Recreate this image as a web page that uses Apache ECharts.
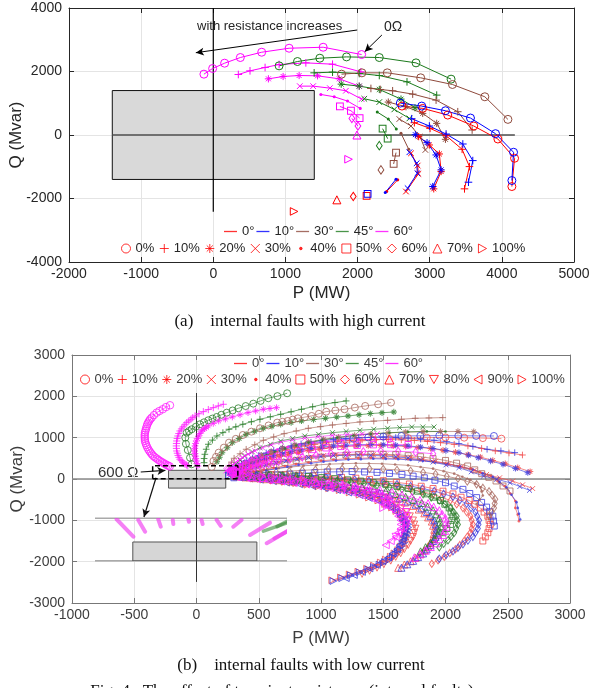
<!DOCTYPE html>
<html><head><meta charset="utf-8">
<script src="https://cdn.jsdelivr.net/npm/echarts@6/dist/echarts.min.js"></script>
<style>html,body{margin:0;padding:0;background:#fff}#c{width:594px;height:688px}</style>
</head><body><div id="c"></div>
<script>
// ---------------- DATA: tick layout ----------------
const xTicksA = [-2000, 5000, 1000];   // min, max, step
const yTicksA = [-4000, 4000, 2000];
const xTicksB = [-1000, 3000, 500];
const yTicksB = [-3000, 3000, 1000];
const anglesA = ['0°','10°','30°','45°','60°'];
const loadsA = ['0%','10%','20%','30%','40%','50%','60%','70%','100%'];
const loadsB = ['0%','10%','20%','30%','40%','50%','60%','70%','80%','90%','100%'];

// ---------------- (a) high current: angle_load ----------------
const a0_0 = [[2616,911],[2903,838],[3250,628],[3611,283],[3945,-126],[4176,-733],[4139,-1623]];
const a0_10 = [[2787,387],[3005,209],[3227,-21],[3449,-450],[3551,-995],[3482,-1696]];
const a0_20 = [[2847,-52],[2995,-314],[3134,-597],[3158,-1152],[3056,-1696]];
const a0_30 = [[2741,-576],[2833,-963],[2843,-1225],[2671,-1780]];
const a0_40 = [[2556,-1413],[2403,-1780]];
const a0_50 = [[2125,-1916]];
const a0_60 = [[1940,-1937]];
const a0_70 = [[1713,-2042]];
const a0_100 = [[1120,-2408]];
const a10_0 = [[2593,1005],[2889,911],[3218,764],[3565,534],[3912,42],[4162,-544],[4139,-1434]];
const a10_10 = [[2750,513],[2995,283],[3227,31],[3459,-283],[3597,-806],[3537,-1487]];
const a10_20 = [[2801,10],[2963,-241],[3088,-628],[3158,-1099],[3042,-1623]];
const a10_30 = [[2718,-544],[2819,-890],[2829,-1204],[2694,-1675]];
const a10_40 = [[2533,-1393],[2384,-1811]];
const a10_50 = [[2139,-1853]];
const a30_0 = [[1778,1916],[2060,1958],[2412,1958],[2875,1801],[3315,1591],[3764,1204],[4084,492]];
const a30_10 = [[2185,1466],[2315,1434],[2486,1393],[2764,1288],[3088,1099],[3389,733],[3588,157]];
const a30_20 = [[2426,1037],[2671,890],[2903,681],[3097,366],[3218,-136]];
const a30_30 = [[2579,503],[2741,283],[2866,-52],[2940,-471]];
const a30_40 = [[2602,52],[2709,-450]];
const a30_50 = [[2533,-555],[2500,-911]];
const a30_60 = [[2324,-1099]];
const a45_0 = [[912,2178],[1167,2314],[1477,2419],[1847,2460],[2301,2440],[2810,2272],[3296,1759]];
const a45_10 = [[1398,1958],[1653,1979],[2023,1937],[2301,1874],[2685,1675],[3097,1256]];
const a45_20 = [[1773,1602],[2023,1539],[2301,1434],[2602,1131],[2796,859]];
const a45_30 = [[2093,1141],[2301,1037],[2509,806],[2718,523]];
const a45_40 = [[2273,722],[2426,503],[2537,188]];
const a45_50 = [[2347,199],[2417,-115]];
const a45_60 = [[2301,-335]];
const a60_0 = [[-130,1916],[-9,2094],[157,2262],[375,2440],[671,2607],[1051,2733],[1523,2764],[2056,2534]];
const a60_10 = [[347,1906],[509,2021],[718,2126],[912,2220],[1283,2272],[1653,2230],[2046,1990]];
const a60_20 = [[764,1769],[968,1843],[1190,1874],[1445,1864],[1746,1769],[2023,1539]];
const a60_30 = [[1199,1539],[1384,1539],[1616,1476],[1838,1393],[2056,1131]];
const a60_40 = [[1491,1277],[1676,1204],[1861,1068],[2037,838]];
const a60_50 = [[1755,900],[1908,764],[2028,534]];
const a60_60 = [[1921,523],[2005,283]];
const a60_70 = [[1991,0]];
const a60_100 = [[1875,-764]];
const rectA = [[-1400,-1400,1400,1400]];
const axisLinesA = [[[-1400,0],[4180,0]], [[0,-2420],[0,4000]]];

// ---------------- (b) low current: angle_load ----------------
const b60_0 = [[-213,1784],[-245,1740],[-271,1688],[-298,1645],[-320,1605],[-342,1545],[-360,1484],[-372,1445],[-380,1405],[-388,1365],[-395,1324],[-400,1270],[-405,1220],[-410,1170],[-414,1121],[-416,1070],[-416,1020],[-415,970],[-414,920],[-409,870],[-403,820],[-396,770],[-387,719],[-378,675],[-368,635],[-358,595],[-347,557],[-334,525],[-320,495],[-307,465],[-293,436],[-279,410],[-265,385],[-252,362],[-239,339],[-227,322],[-215,305]];
const b60_10 = [[215,1808],[175,1768],[135,1726],[95,1680],[55,1630],[20,1578],[-12,1525],[-30,1485],[-45,1445],[-62,1404],[-79,1363],[-94,1312],[-108,1262],[-121,1212],[-133,1162],[-142,1100],[-150,1040],[-155,980],[-159,920],[-161,860],[-162,800],[-161,740],[-159,678],[-154,624],[-148,570],[-141,523],[-133,477],[-123,443],[-112,410],[-102,383],[-92,356],[-81,338],[-70,320]];
const b45_0 = [[728,2074],[650,2005],[577,1954],[515,1890],[456,1823],[395,1765],[336,1711],[290,1658],[243,1605],[200,1553],[162,1501],[128,1462],[95,1421],[60,1372],[28,1324],[-5,1265],[-39,1203],[-60,1160],[-79,1121],[-90,1000],[-85,850],[-70,700],[-52,516],[-39,356]];
const b60_20 = [[643,1726],[590,1706],[537,1687],[475,1646],[414,1606],[350,1553],[288,1501],[232,1452],[178,1404],[135,1345],[95,1283],[78,1252],[65,1222],[52,1192],[39,1162],[28,1100],[18,1040],[8,980],[-2,920],[-7,860],[-12,800],[-14,740],[-16,678],[-13,616],[-10,555],[-6,495],[-2,436],[4,375],[11,315]];
const b45_10 = [[1202,1889],[1112,1849],[1023,1808],[933,1748],[843,1687],[760,1626],[676,1566],[593,1505],[510,1445],[441,1385],[372,1324],[316,1263],[261,1203],[212,1122],[164,1041],[128,940],[95,840],[78,720],[67,598],[61,495],[61,395]];
const b30_0 = [[1562,1848],[1459,1808],[1355,1768],[1272,1728],[1189,1687],[1115,1658],[1042,1630],[983,1578],[925,1525],[870,1497],[814,1469],[773,1437],[732,1404],[690,1384],[648,1364],[579,1296],[510,1227],[441,1146],[372,1065],[316,972],[261,880],[220,759],[178,638],[157,537],[136,436],[122,291]];
const b45_20 = [[1585,1622],[1490,1602],[1396,1582],[1306,1554],[1217,1525],[1126,1497],[1036,1469],[940,1437],[843,1404],[760,1364],[676,1324],[606,1276],[537,1227],[468,1154],[399,1081],[344,980],[288,880],[247,759],[206,638],[185,529],[164,420]];
const b30_10 = [[1978,1485],[1867,1477],[1757,1469],[1646,1445],[1535,1420],[1424,1400],[1313,1380],[1202,1344],[1092,1307],[995,1267],[898,1227],[801,1162],[704,1097],[620,1017],[537,936],[468,828],[399,719],[350,610],[302,501],[281,408],[261,315]];
const b45_30 = [[1908,1259],[1818,1259],[1729,1259],[1632,1243],[1535,1227],[1424,1203],[1313,1178],[1202,1150],[1092,1121],[981,1081],[870,1041],[773,980],[676,920],[593,840],[510,759],[448,658],[386,557],[351,456],[316,356],[302,295],[288,234]];
const b10_0 = [[2389,1041],[2246,1043],[2103,1045],[1950,1050],[1798,1045],[1646,1041],[1500,1025],[1380,1005],[1260,975],[1140,940],[1020,895],[900,840],[790,780],[690,710],[600,630],[520,545],[450,455],[390,370],[340,290],[300,220]];
const b0_0 = [[2449,976],[2300,990],[2150,1000],[2000,1005],[1850,1000],[1700,990],[1550,970],[1420,945],[1290,910],[1160,870],[1040,820],[920,760],[810,695],[710,625],[620,545],[540,465],[470,385],[410,305],[360,230],[320,170]];
const b30_20 = [[2227,1146],[2100,1150],[1960,1150],[1820,1145],[1680,1135],[1540,1115],[1400,1090],[1270,1055],[1140,1010],[1020,960],[900,900],[790,830],[690,750],[600,665],[520,575],[450,480],[390,385],[340,300],[300,230]];
const b60_30 = [[1450,1090],[1330,1085],[1210,1075],[1090,1055],[975,1025],[870,990],[770,945],[680,890],[600,825],[530,755],[470,680],[440,640],[415,600],[392,560],[370,520],[350,480],[330,440],[315,402],[300,365],[288,332],[275,300],[265,272],[255,245],[246,222],[238,200]];
const b60_40 = [[1560,960],[1430,960],[1300,952],[1170,935],[1050,910],[935,875],[830,830],[735,775],[650,715],[575,650],[505,575],[475,538],[445,500],[420,462],[395,425],[372,390],[350,355],[331,322],[312,290],[296,260],[280,230],[268,205],[255,180]];
const b60_50 = [[1700,830],[1560,835],[1420,830],[1290,815],[1160,790],[1040,755],[930,715],[830,665],[740,610],[655,550],[580,490],[545,458],[510,425],[480,395],[450,365],[422,335],[395,305],[370,278],[345,250],[325,225],[305,200],[290,180],[275,160]];
const b60_60 = [[1900,610],[1760,650],[1620,670],[1480,675],[1340,665],[1210,645],[1080,615],[960,575],[850,530],[750,480],[660,425],[620,398],[580,370],[542,342],[505,315],[472,290],[440,265],[410,240],[380,215],[355,195],[330,175],[310,158],[290,140]];
const b45_40 = [[2000,1150],[1850,1152],[1700,1140],[1550,1120],[1400,1090],[1260,1050],[1130,1000],[1010,945],[900,880],[800,810],[710,735],[630,655],[560,570],[500,485],[445,400],[395,320],[350,250],[310,190]];
const b10_10 = [[2556,638],[2445,680],[2334,719],[2220,790],[2108,855],[2010,900],[1908,937],[1800,965],[1700,990],[1600,1002],[1500,1010],[1400,1008],[1300,1000],[1200,982],[1100,960],[1010,928],[920,890],[840,848],[760,800],[690,745],[620,690],[560,630],[500,570],[450,505],[400,440],[360,375],[320,310],[290,255],[260,200]];
const b0_10 = [[2618,581],[2510,630],[2400,680],[2290,740],[2180,800],[2070,840],[1960,880],[1855,910],[1750,935],[1645,948],[1540,955],[1435,952],[1330,945],[1230,928],[1130,905],[1040,875],[950,840],[870,800],[790,755],[720,705],[650,650],[590,590],[530,530],[480,465],[430,400],[390,340],[350,280],[320,225],[290,170]];
const b10_20 = [[2661,153],[2562,255],[2462,356],[2362,436],[2263,516],[2185,577],[2108,638],[2004,690],[1900,740],[1800,772],[1700,800],[1600,818],[1500,830],[1400,832],[1300,830],[1200,818],[1100,800],[1010,772],[920,740],[840,702],[760,660],[690,612],[620,560],[560,505],[500,450],[450,390],[400,330],[360,275],[320,220],[290,175],[260,130]];
const b0_20 = [[2680,180],[2580,275],[2480,370],[2380,450],[2280,530],[2180,590],[2080,650],[1980,695],[1880,740],[1780,765],[1680,790],[1580,800],[1480,810],[1380,806],[1280,800],[1180,780],[1080,760],[990,725],[900,690],[820,645],[740,600],[670,550],[600,500],[540,445],[480,390],[430,330],[380,270],[340,215],[300,160]];
const b10_30 = [[2675,-274],[2597,-182],[2518,-90],[2412,-8],[2306,73],[2207,174],[2108,274],[2004,342],[1900,410],[1800,460],[1700,510],[1600,535],[1500,560],[1400,570],[1300,580],[1200,575],[1100,570],[1000,545],[900,520],[810,480],[720,440],[640,390],[560,340],[490,285],[420,230],[360,175],[300,120]];
const b0_30 = [[2700,-230],[2620,-140],[2540,-50],[2435,30],[2330,110],[2230,205],[2130,300],[2025,365],[1920,430],[1820,480],[1720,530],[1620,555],[1520,580],[1420,590],[1320,600],[1220,595],[1120,590],[1020,565],[920,540],[830,500],[740,460],[660,410],[580,360],[510,305],[440,250],[380,195],[320,140]];
const b30_50 = [[2518,-290],[2462,-169],[2406,-48],[2348,40],[2291,128],[2235,222],[2178,315],[2089,383],[2000,450],[1900,495],[1800,540],[1700,565],[1600,590],[1500,595],[1400,600],[1300,590],[1200,580],[1100,555],[1000,530],[900,490],[800,450],[710,400],[620,350],[540,295],[460,240],[390,185],[330,130]];
const b0_40 = [[2590,-1020],[2580,-860],[2561,-700],[2561,-533],[2520,-350],[2476,-170],[2420,-50],[2363,73],[2280,160],[2200,250],[2100,315],[2000,380],[1900,420],[1800,460],[1700,480],[1600,500],[1500,505],[1400,510],[1300,500],[1200,490],[1100,465],[1000,440],[900,400],[800,360],[710,315],[620,270],[540,225],[460,180],[390,140],[320,100]];
const b10_40 = [[2600,-980],[2590,-840],[2580,-700],[2570,-560],[2530,-380],[2490,-200],[2435,-75],[2380,50],[2300,140],[2220,230],[2120,295],[2020,360],[1920,400],[1820,440],[1720,460],[1620,480],[1520,485],[1420,490],[1320,480],[1220,470],[1120,445],[1020,420],[920,380],[820,340],[730,295],[640,250],[560,205],[480,160],[410,120],[340,80]];
const b30_40 = [[2250,-600],[2275,-500],[2300,-400],[2290,-300],[2280,-200],[2240,-110],[2200,-20],[2135,55],[2070,130],[1985,190],[1900,250],[1800,290],[1700,330],[1595,350],[1490,370],[1385,375],[1280,380],[1175,370],[1070,360],[965,340],[860,320],[760,290],[660,260],[570,225],[480,190],[405,160],[330,130]];
const b30_60 = [[2350,-900],[2370,-800],[2390,-700],[2395,-595],[2400,-490],[2375,-395],[2350,-300],[2300,-215],[2250,-130],[2175,-60],[2100,10],[2010,65],[1920,120],[1820,160],[1720,200],[1610,220],[1500,240],[1390,245],[1280,250],[1170,245],[1060,240],[955,225],[850,210],[745,190],[640,170],[545,150],[450,130],[375,115],[300,100]];
const b10_50 = [[2392,-1138],[2386,-1019],[2380,-900],[2355,-790],[2330,-680],[2290,-565],[2250,-450],[2195,-350],[2140,-250],[2070,-170],[2000,-90],[1915,-30],[1830,30],[1740,70],[1650,110],[1550,135],[1450,160],[1350,170],[1250,180],[1150,175],[1050,170],[950,155],[850,140],[750,120],[650,100],[550,80],[450,60],[375,45],[300,30]];
const b0_50 = [[2300,-1500],[2320,-1400],[2340,-1300],[2350,-1200],[2360,-1100],[2350,-1000],[2340,-900],[2310,-800],[2280,-700],[2235,-610],[2190,-520],[2125,-440],[2060,-360],[1980,-295],[1900,-230],[1805,-175],[1710,-120],[1605,-80],[1500,-40],[1390,-10],[1280,20],[1165,40],[1050,60],[935,75],[820,90],[710,100],[600,110],[500,115],[400,120]];
const b10_100 = [[1099,-2470],[1170,-2400],[1240,-2330],[1310,-2260],[1380,-2187],[1425,-2130],[1470,-2070],[1512,-2007],[1554,-1944],[1577,-1882],[1600,-1820],[1618,-1760],[1635,-1702],[1652,-1620],[1670,-1540],[1679,-1460],[1688,-1380],[1695,-1310],[1701,-1240],[1701,-1170],[1701,-1097],[1688,-1017],[1675,-937],[1642,-816],[1608,-695],[1554,-594],[1500,-492],[1420,-412],[1340,-332],[1273,-291],[1206,-250],[1128,-210],[1050,-170],[965,-135],[880,-100],[790,-70],[700,-40],[615,-10],[530,20],[455,40],[380,60],[320,75],[260,90]];
const b0_100 = [[1090,-2450],[1160,-2380],[1230,-2310],[1300,-2240],[1370,-2170],[1425,-2095],[1480,-2020],[1520,-1950],[1560,-1880],[1590,-1800],[1620,-1720],[1640,-1635],[1660,-1550],[1670,-1465],[1680,-1380],[1685,-1290],[1690,-1200],[1685,-1115],[1680,-1030],[1660,-945],[1640,-860],[1605,-775],[1570,-690],[1515,-605],[1460,-520],[1385,-450],[1310,-380],[1230,-325],[1150,-270],[1065,-225],[980,-180],[890,-140],[800,-100],[710,-70],[620,-40],[540,-15],[460,10],[395,35],[330,60]];
const b0_60 = [[1890,-2050],[1940,-1965],[1990,-1880],[2035,-1790],[2080,-1700],[2115,-1600],[2150,-1500],[2175,-1400],[2200,-1300],[2210,-1200],[2220,-1100],[2210,-1000],[2200,-900],[2170,-800],[2140,-700],[2090,-610],[2040,-520],[1970,-445],[1900,-370],[1810,-305],[1720,-240],[1620,-190],[1520,-140],[1410,-100],[1300,-60],[1190,-30],[1080,0],[965,25],[850,50],[735,65],[620,80],[520,90],[420,100],[350,105],[280,110]];
const b10_60 = [[1950,-1930],[2005,-1840],[2060,-1750],[2100,-1665],[2140,-1580],[2180,-1490],[2220,-1400],[2240,-1300],[2260,-1200],[2265,-1100],[2270,-1000],[2255,-900],[2240,-800],[2205,-700],[2170,-600],[2115,-515],[2060,-430],[1985,-360],[1910,-290],[1815,-230],[1720,-170],[1610,-125],[1500,-80],[1385,-45],[1270,-10],[1155,15],[1040,40],[920,60],[800,80],[690,90],[580,100],[485,105],[390,110]];
const b10_70 = [[1646,-2147],[1693,-2063],[1740,-1980],[1780,-1890],[1820,-1800],[1850,-1700],[1880,-1600],[1900,-1500],[1920,-1400],[1925,-1300],[1930,-1200],[1920,-1100],[1910,-1000],[1880,-900],[1850,-800],[1805,-710],[1760,-620],[1695,-545],[1630,-470],[1550,-405],[1470,-340],[1375,-285],[1280,-230],[1180,-185],[1080,-140],[980,-105],[880,-70],[780,-40],[680,-10],[585,15],[490,40],[410,60],[330,80]];
const b0_70 = [[1620,-2150],[1670,-2070],[1720,-1990],[1760,-1905],[1800,-1820],[1830,-1725],[1860,-1630],[1880,-1530],[1900,-1430],[1905,-1330],[1910,-1230],[1900,-1130],[1890,-1030],[1860,-930],[1830,-830],[1785,-740],[1740,-650],[1675,-570],[1610,-490],[1530,-425],[1450,-360],[1355,-305],[1260,-250],[1160,-205],[1060,-160],[960,-125],[860,-90],[760,-60],[660,-30],[565,-5],[470,20],[395,40],[320,60]];
const b0_80 = [[1330,-2300],[1390,-2225],[1450,-2150],[1505,-2065],[1560,-1980],[1600,-1890],[1640,-1800],[1670,-1700],[1700,-1600],[1720,-1500],[1740,-1400],[1750,-1300],[1760,-1200],[1750,-1100],[1740,-1000],[1715,-900],[1690,-800],[1645,-710],[1600,-620],[1535,-540],[1470,-460],[1385,-395],[1300,-330],[1205,-275],[1110,-220],[1005,-175],[900,-130],[795,-95],[690,-60],[590,-30],[490,0],[405,25],[320,50]];
const b10_90 = [[1200,-2400],[1265,-2325],[1330,-2250],[1390,-2165],[1450,-2080],[1495,-1990],[1540,-1900],[1575,-1800],[1610,-1700],[1630,-1600],[1650,-1500],[1660,-1400],[1670,-1300],[1670,-1200],[1670,-1100],[1655,-1000],[1640,-900],[1605,-800],[1570,-700],[1515,-615],[1460,-530],[1385,-460],[1310,-390],[1220,-330],[1130,-270],[1030,-220],[930,-170],[825,-130],[720,-90],[615,-55],[510,-20],[425,10],[340,40]];
const b45_60 = [[1950,-1650],[1985,-1565],[2020,-1480],[2045,-1390],[2070,-1300],[2085,-1200],[2100,-1100],[2095,-1000],[2090,-900],[2065,-800],[2040,-700],[1995,-610],[1950,-520],[1885,-445],[1820,-370],[1735,-310],[1650,-250],[1550,-200],[1450,-150],[1345,-110],[1240,-70],[1130,-40],[1020,-10],[910,15],[800,40],[690,60],[580,80],[480,90],[380,100]];
const b45_50 = [[1980,-1300],[2010,-1200],[2040,-1100],[2050,-1000],[2060,-900],[2045,-800],[2030,-700],[1995,-610],[1960,-520],[1905,-440],[1850,-360],[1775,-295],[1700,-230],[1610,-180],[1520,-130],[1420,-90],[1320,-50],[1215,-20],[1110,10],[1005,35],[900,60],[790,75],[680,90],[580,100],[480,110],[400,110],[320,110]];
const b45_70 = [[1800,-1750],[1840,-1650],[1880,-1550],[1910,-1450],[1940,-1350],[1950,-1250],[1960,-1150],[1955,-1050],[1950,-950],[1925,-855],[1900,-760],[1855,-670],[1810,-580],[1745,-505],[1680,-430],[1600,-365],[1520,-300],[1425,-250],[1330,-200],[1225,-155],[1120,-110],[1015,-75],[910,-40],[805,-15],[700,10],[600,30],[500,50],[420,65],[340,80]];
const b60_70 = [[1750,-1900],[1795,-1815],[1840,-1730],[1880,-1640],[1920,-1550],[1950,-1450],[1980,-1350],[1995,-1250],[2010,-1150],[2005,-1050],[2000,-950],[1975,-855],[1950,-760],[1905,-675],[1860,-590],[1795,-515],[1730,-440],[1650,-380],[1570,-320],[1475,-270],[1380,-220],[1275,-180],[1170,-140],[1065,-105],[960,-70],[855,-45],[750,-20],[645,5],[540,30],[450,50],[360,70]];
const b60_80 = [[1600,-1400],[1640,-1300],[1680,-1200],[1690,-1100],[1700,-1000],[1690,-900],[1680,-800],[1645,-710],[1610,-620],[1555,-545],[1500,-470],[1430,-405],[1360,-340],[1275,-285],[1190,-230],[1095,-185],[1000,-140],[900,-105],[800,-70],[700,-40],[600,-10],[510,15],[420,40],[355,60],[290,80]];
const b60_90 = [[1520,-1600],[1560,-1500],[1600,-1400],[1620,-1300],[1640,-1200],[1640,-1100],[1640,-1000],[1620,-900],[1600,-800],[1560,-710],[1520,-620],[1460,-540],[1400,-460],[1325,-395],[1250,-330],[1160,-275],[1070,-220],[975,-175],[880,-130],[780,-95],[680,-60],[580,-30],[480,0],[400,25],[320,50]];
const b60_100 = [[1500,-700],[1530,-625],[1560,-550],[1540,-475],[1520,-400],[1470,-340],[1420,-280],[1350,-230],[1280,-180],[1200,-140],[1120,-100],[1035,-70],[950,-40],[865,-15],[780,10],[695,30],[610,50],[530,65],[450,80],[385,90],[320,100]];
const rectB = [[-225,-220,235,210]];
const dashBoxB = [[-352,7],[332,7],[332,322],[-352,322],[-352,7]];
const axisLinesB = [[[-1000,0],[3000,0]], [[0,-2490],[0,2080]]];
// inset (magnified view of the dashed box)
const insetRange = [-365, 336, 0, 475];
const insetRect = [[-227,0,226,210]];
const insetEdges = [[[-365,0],[336,0]], [[-365,475],[336,475]]];
const insetStrokes = [[-286,461,-225,268],[-207,453,-182,324],[-134,461,-125,379],[-81,453,-79,409],[-24,461,-22,434],[24,453,28,409],[79,453,94,387],[140,379,170,453],[201,287,274,423],[262,196,335,324],[290,250,336,330]];
const insetStrokesGreen = [[250,330,336,420],[300,380,336,440]];

const curvesA = [
 ['60°','0%',a60_0],['60°','10%',a60_10],['60°','20%',a60_20],['60°','30%',a60_30],['60°','40%',a60_40],['60°','50%',a60_50],['60°','60%',a60_60],['60°','70%',a60_70],['60°','100%',a60_100],
 ['45°','0%',a45_0],['45°','10%',a45_10],['45°','20%',a45_20],['45°','30%',a45_30],['45°','40%',a45_40],['45°','50%',a45_50],['45°','60%',a45_60],
 ['30°','0%',a30_0],['30°','10%',a30_10],['30°','20%',a30_20],['30°','30%',a30_30],['30°','40%',a30_40],['30°','50%',a30_50],['30°','60%',a30_60],
 ['0°','0%',a0_0],['0°','10%',a0_10],['0°','20%',a0_20],['0°','30%',a0_30],['0°','40%',a0_40],['0°','50%',a0_50],['0°','60%',a0_60],['0°','70%',a0_70],['0°','100%',a0_100],
 ['10°','0%',a10_0],['10°','10%',a10_10],['10°','20%',a10_20],['10°','30%',a10_30],['10°','40%',a10_40],['10°','50%',a10_50]
];
const curvesB = [
 ['0°','100%',b0_100],['10°','100%',b10_100],['0°','80%',b0_80],['10°','90%',b10_90],['0°','70%',b0_70],['10°','70%',b10_70],
 ['0°','60%',b0_60],['10°','60%',b10_60],['0°','50%',b0_50],['10°','50%',b10_50],
 ['45°','50%',b45_50],['45°','60%',b45_60],['45°','70%',b45_70],
 ['30°','60%',b30_60],['30°','40%',b30_40],['30°','50%',b30_50],
 ['0°','40%',b0_40],['10°','40%',b10_40],['0°','30%',b0_30],['10°','30%',b10_30],
 ['0°','20%',b0_20],['10°','20%',b10_20],['0°','10%',b0_10],['10°','10%',b10_10],
 ['0°','0%',b0_0],['10°','0%',b10_0],['30°','20%',b30_20],['45°','40%',b45_40],
 ['30°','10%',b30_10],['45°','30%',b45_30],['45°','20%',b45_20],['30°','0%',b30_0],['45°','10%',b45_10],['45°','0%',b45_0],
 ['60°','100%',b60_100],['60°','90%',b60_90],['60°','80%',b60_80],['60°','70%',b60_70],
 ['60°','60%',b60_60],['60°','50%',b60_50],['60°','40%',b60_40],['60°','30%',b60_30],
 ['60°','20%',b60_20],['60°','10%',b60_10],['60°','0%',b60_0]
];

// ---------------- STYLE ----------------
const FONT = "'Liberation Sans', Arial, Helvetica, sans-serif";
const SERIF = "'Liberation Serif', 'Times New Roman', serif";
const COLA = {'0°':'#ff0000','10°':'#0000ff','30°':'#8f4a3c','45°':'#1b7a1b','60°':'#ff00ff'};
const COLB = {'0°':'#f24a4a','10°':'#3b3bdd','30°':'#a8665c','45°':'#2a7d2a','60°':'#ff1fff'};
const SYM = {
 '0%':  {s:'circle', k:1, fill:false},
 '10%': {s:'path://M5,0L5,10M0,5L10,5', k:0.95, fill:false},
 '20%': {s:'path://M5,0L5,10M0,5L10,5M1.6,1.6L8.4,8.4M8.4,1.6L1.6,8.4', k:0.9, fill:false},
 '30%': {s:'path://M0,0L10,10M10,0L0,10', k:0.7, fill:false},
 '40%': {s:'circle', k:0.38, fill:true},
 '50%': {s:'rect', k:0.85, fill:false},
 '60%': {s:'diamond', k:1, fill:false},
 '70%': {s:'triangle', k:1, fill:false},
 '80%': {s:'path://M0,0L10,0L5,9Z', k:0.95, fill:false},
 '90%': {s:'path://M9,0L0,5L9,10Z', k:0.95, fill:false},
 '100%': {s:'path://M0,0L9,5L0,10Z', k:0.95, fill:false}
};
const DOT_ICON = 'path://M0,0M10,10M5,3.6A1.4,1.4,0,1,1,5,6.4A1.4,1.4,0,1,1,5,3.6Z';

function curve(load, data, xi, yi, col, sz, op, lw, z) {
  const m = SYM[load];
  const size = load === '60%' ? [sz*0.72, sz*1.05] : sz*m.k;
  return {type:'line', xAxisIndex:xi, yAxisIndex:yi, data:data, symbol:m.s, symbolSize:size,
    showSymbol:true, showAllSymbol:true, z:z, silent:true, animation:false, clip:true,
    lineStyle:{color:col, width:lw, opacity:op},
    itemStyle:{color:m.fill ? col : 'rgba(0,0,0,0)', borderColor:col, borderWidth:m.fill ? 0 : 1, opacity:op},
    emphasis:{disabled:true}};
}
function rectSeries(data, xi, yi, fill, stroke, z) {
  return {type:'custom', xAxisIndex:xi, yAxisIndex:yi, data:data, z:z, silent:true, animation:false, clip:true,
    renderItem:function(params, api){
      const p1 = api.coord([api.value(0), api.value(1)]);
      const p2 = api.coord([api.value(2), api.value(3)]);
      return {type:'rect', shape:{x:Math.min(p1[0],p2[0]), y:Math.min(p1[1],p2[1]), width:Math.abs(p2[0]-p1[0]), height:Math.abs(p2[1]-p1[1])},
        style:{fill:fill, stroke:stroke, lineWidth:1}};
    }};
}
function strokeSeries(data, xi, yi, col, w, z) {
  return {type:'custom', xAxisIndex:xi, yAxisIndex:yi, data:data, z:z, silent:true, animation:false, clip:true,
    renderItem:function(params, api){
      const p1 = api.coord([api.value(0), api.value(1)]);
      const p2 = api.coord([api.value(2), api.value(3)]);
      return {type:'line', shape:{x1:p1[0], y1:p1[1], x2:p2[0], y2:p2[1]}, style:{stroke:col, lineWidth:w, lineCap:'round'}};
    }};
}
function plainLine(data, xi, yi, col, w, z, extra) {
  return Object.assign({type:'line', xAxisIndex:xi, yAxisIndex:yi, data:data, symbol:'none', z:z, silent:true, animation:false,
    lineStyle:{color:col, width:w}, emphasis:{disabled:true}}, extra || {});
}

const series = [];
// legend proxies (no data)
anglesA.forEach(a => series.push({name:a, type:'scatter', xAxisIndex:0, yAxisIndex:0, data:[], symbol:'rect',
  itemStyle:{color:COLA[a], borderWidth:0}}));
loadsB.forEach(l => { const m = SYM[l]; series.push({name:l, type:'scatter', xAxisIndex:0, yAxisIndex:0, data:[],
  symbol: l === '40%' ? DOT_ICON : m.s, symbolSize:8,
  itemStyle:{color:m.fill ? '#ff0000' : 'rgba(0,0,0,0)', borderColor:'#ff0000', borderWidth:m.fill ? 0 : 1}}); });

// (a)
series.push(rectSeries(rectA, 0, 0, '#d9d9d9', '#111', 1));
series.push(plainLine(axisLinesA[0], 0, 0, '#4d4d4d', 1.5, 2, {
  markLine:{silent:true, animation:false, symbol:['none','arrow'], symbolSize:[6,8], label:{show:false},
    lineStyle:{color:'#000', width:1, type:'solid'}, emphasis:{disabled:true},
    data:[[{coord:[1995,3307]},{coord:[-242,2592]}], [{coord:[2337,3150]},{coord:[2100,2625]}]]}
}));
series.push(plainLine(axisLinesA[1], 0, 0, '#000', 1.2, 2));
curvesA.forEach(c => series.push(curve(c[1], c[2], 0, 0, COLA[c[0]], 8, 1, 1, 3)));

// (b)
series.push(rectSeries(rectB, 2, 2, '#d6d6d6', '#555', 1));
series.push(plainLine(axisLinesB[0], 2, 2, '#8a8a8a', 1.5, 2, {
  markLine:{silent:true, animation:false, symbol:['none','arrow'], symbolSize:[6,8], label:{show:false},
    lineStyle:{color:'#111', width:1.2, type:'solid'}, emphasis:{disabled:true},
    data:[[{coord:[-325,31]},{coord:[-422,-920]}], [{coord:[-448,169]},{coord:[-250,208]}]]}
}));
series.push(plainLine(axisLinesB[1], 2, 2, '#333', 1, 2));
curvesB.forEach(c => series.push(curve(c[1], c[2], 2, 2, COLB[c[0]], c[0] === '60°' ? 7.5 : 7, 0.8, 0.8, 3)));
series.push(plainLine(dashBoxB, 2, 2, '#000', 1.5, 6, {lineStyle:{color:'#000', width:1.5, type:[5,3]}}));

// inset
series.push(rectSeries(insetRect, 4, 4, '#d6d6d6', '#555', 1));
insetEdges.forEach(e => series.push(plainLine(e, 4, 4, '#555', 1, 2)));
series.push(strokeSeries(insetStrokesGreen, 4, 4, 'rgba(60,140,60,0.6)', 3.5, 3));
series.push(strokeSeries(insetStrokes, 4, 4, 'rgba(240,60,240,0.65)', 4, 3));

function axisPair(kind, grid, t, labelColor, lineColor, name, nameGap) {
  const common = {type:'value', gridIndex:grid, min:t[0], max:t[1], interval:t[2]};
  const main = Object.assign({}, common, {
    position: kind === 'x' ? 'bottom' : 'left',
    axisLine:{show:true, onZero:false, lineStyle:{color:lineColor, width:1}},
    axisTick:{show:true, inside:true, length:5, lineStyle:{color:lineColor}},
    axisLabel:{show:true, fontSize:14, color:labelColor, fontFamily:FONT, margin: kind === 'x' ? 5 : 7,
      formatter: v => String(v)},
    splitLine:{show:true, lineStyle:{color:'#e4e4e4', width:1}},
    name:name, nameLocation:'middle', nameGap:nameGap, nameMoveOverlap:false,
    nameTextStyle:{fontSize:17, color:labelColor, fontFamily:FONT}
  });
  const mirror = Object.assign({}, common, {
    position: kind === 'x' ? 'top' : 'right',
    axisLine:{show:true, onZero:false, lineStyle:{color:lineColor, width:1}},
    axisTick:{show:true, inside:true, length:5, lineStyle:{color:lineColor}},
    axisLabel:{show:false}, splitLine:{show:false}
  });
  return [main, mirror];
}
const xa = axisPair('x', 0, xTicksA, '#262626', '#262626', 'P (MW)', 23);
const ya = axisPair('y', 0, yTicksA, '#262626', '#262626', 'Q (Mvar)', 44);
const xb = axisPair('x', 1, xTicksB, '#3d3d3d', '#777', 'P (MW)', 27);
const yb = axisPair('y', 1, yTicksB, '#3d3d3d', '#777', 'Q (Mvar)', 46);
const xin = {type:'value', gridIndex:2, min:insetRange[0], max:insetRange[1], show:false, splitLine:{show:false}};
const yin = {type:'value', gridIndex:2, min:insetRange[2], max:insetRange[3], show:false, splitLine:{show:false}};

const legendText = {fontSize:13, color:'#262626', fontFamily:FONT};
const legendTextB = {fontSize:13, color:'#3d3d3d', fontFamily:FONT};
const option = {
  animation:false,
  backgroundColor:'#fff',
  grid:[
    {left:69, top:8, width:505, height:254, outerBoundsMode:'none'},
    {left:72, top:355, width:498, height:248, outerBoundsMode:'none'},
    {left:95, top:518, width:192, height:43, outerBoundsMode:'none'}
  ],
  xAxis:[xa[0], xa[1], xb[0], xb[1], xin],
  yAxis:[ya[0], ya[1], yb[0], yb[1], yin],
  legend:[
    {data:anglesA, left:224, top:225, padding:0, itemWidth:13, itemHeight:1.3, itemGap:2, selectedMode:false, textStyle:legendText, itemStyle:{borderWidth:0}},
    {data:loadsA, left:121, top:242, padding:0, itemWidth:9, itemHeight:9, itemGap:5, selectedMode:false, textStyle:legendText, itemStyle:{borderWidth:1}},
    {data:anglesA, left:234, top:357, padding:0, itemWidth:13, itemHeight:1.3, itemGap:2, selectedMode:false, textStyle:legendTextB, itemStyle:{borderWidth:0}},
    {data:loadsB, left:80, top:373, padding:0, itemWidth:9, itemHeight:9, itemGap:4, selectedMode:false, textStyle:legendTextB, itemStyle:{borderWidth:1}}
  ],
  graphic:[
    {type:'text', x:197, y:26, silent:true, style:{text:'with resistance increases', fill:'#262626', font:'13px ' + FONT, verticalAlign:'middle'}},
    {type:'text', x:384, y:27, silent:true, style:{text:'0Ω', fill:'#262626', font:'14px ' + FONT, verticalAlign:'middle'}},
    {type:'text', x:98, y:473, silent:true, style:{text:'600 Ω', fill:'#333', font:'15px ' + FONT, verticalAlign:'middle'}},
    {type:'text', x:300, y:322, silent:true, style:{text:'(a)    internal faults with high current', fill:'#111', font:'17px ' + SERIF, align:'center', verticalAlign:'middle'}},
    {type:'text', x:301, y:666, silent:true, style:{text:'(b)    internal faults with low current', fill:'#111', font:'17px ' + SERIF, align:'center', verticalAlign:'middle'}},
    {type:'text', x:282, y:692, silent:true, style:{text:'Fig. 4.  The effect of transient resistance (internal faults)', fill:'#111', font:'17px ' + SERIF, align:'center', verticalAlign:'middle'}}
  ],
  series:series
};
const chart = echarts.init(document.getElementById('c'), null, {renderer:'canvas'});
chart.setOption(option);
</script></body></html>
